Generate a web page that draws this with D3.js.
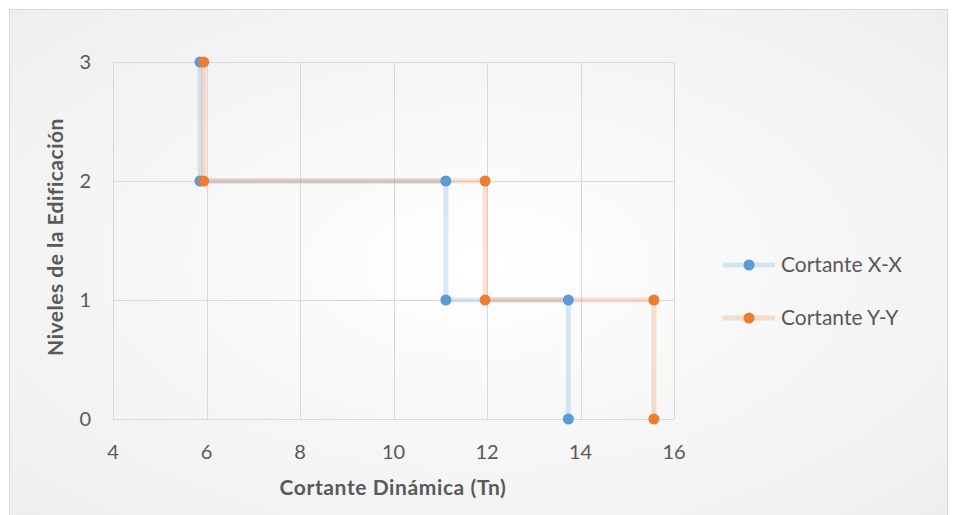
<!DOCTYPE html>
<html>
<head>
<meta charset="utf-8">
<script src="https://cdn.jsdelivr.net/npm/d3@7"></script>
<style>
  body { margin: 0; background: #fff; }
  text { font-family: Lato, "Open Sans", sans-serif; fill: #595959; }
</style>
</head>
<body>
<script>
// data
var niveles = [3, 2, 2, 1, 1, 0];
var cortanteX = [5.86, 5.86, 11.12, 11.12, 13.74, 13.74];
var cortanteY = [5.94, 5.94, 11.96, 11.96, 15.57, 15.57];
var seriesNames = ['Cortante X-X', 'Cortante Y-Y'];
var seriesColors = ['#5b9bd5', '#ed7d31'];
var xTicks = [4, 6, 8, 10, 12, 14, 16];
var yTicks = [0, 1, 2, 3];

var width = 956;
var height = 515;

var svg = d3.select('body').append('svg')
  .attr('width', width)
  .attr('height', height)

var defs = svg.append('defs')
var grad = defs.append('radialGradient')
  .attr('id', 'bg')
  .attr('cx', '50%').attr('cy', '50%').attr('r', '75%')
grad.append('stop').attr('offset', '0%').attr('stop-color', '#ffffff')
grad.append('stop').attr('offset', '100%').attr('stop-color', '#ededed')

// chart frame
svg.append('rect')
  .attr('x', 9.5)
  .attr('y', 9.5)
  .attr('width', 938)
  .attr('height', 510)
  .attr('fill', 'url(#bg)')
  .attr('stroke', '#d9d9d9')

var x = d3.scaleLinear().domain([4, 16]).range([113, 674]);
var y = d3.scaleLinear().domain([0, 3]).range([419, 62]);

// gridlines
svg.append('g').selectAll('line')
  .data(xTicks)
  .enter().append('line')
  .attr('x1', function(d) { return Math.round(x(d)) + 0.5 })
  .attr('x2', function(d) { return Math.round(x(d)) + 0.5 })
  .attr('y1', y(3))
  .attr('y2', y(0))
  .attr('stroke', '#d9d9d9')

svg.append('g').selectAll('line')
  .data(yTicks)
  .enter().append('line')
  .attr('x1', x(4))
  .attr('x2', x(16))
  .attr('y1', function(d) { return Math.round(y(d)) + 0.5 })
  .attr('y2', function(d) { return Math.round(y(d)) + 0.5 })
  .attr('stroke', '#d9d9d9')

// tick labels
svg.append('g').selectAll('text')
  .data(xTicks)
  .enter().append('text')
  .attr('x', function(d) { return x(d) })
  .attr('y', 459)
  .attr('text-anchor', 'middle')
  .attr('font-size', 20)
  .text(function(d) { return d })

svg.append('g').selectAll('text')
  .data(yTicks)
  .enter().append('text')
  .attr('x', 91)
  .attr('y', function(d) { return y(d) + 7 })
  .attr('text-anchor', 'end')
  .attr('font-size', 20)
  .text(function(d) { return d })

// axis titles
svg.append('text')
  .attr('x', 393)
  .attr('y', 495)
  .attr('text-anchor', 'middle')
  .attr('font-size', 21)
  .attr('font-weight', 'bold')
  .attr('letter-spacing', 0.6)
  .text('Cortante Dinámica (Tn)')

svg.append('text')
  .attr('transform', 'translate(63,237) rotate(-90)')
  .attr('text-anchor', 'middle')
  .attr('font-size', 21)
  .attr('font-weight', 'bold')
  .attr('letter-spacing', 0.5)
  .text('Niveles de la Edificación')

// series
var series = [cortanteX, cortanteY];
var line = d3.line()
  .x(function(d) { return x(d[0]) })
  .y(function(d) { return y(d[1]) })

series.forEach(function(vals, i) {
  var pts = vals.map(function(v, j) { return [v, niveles[j]] });
  svg.append('path')
    .datum(pts)
    .attr('d', line)
    .attr('fill', 'none')
    .attr('stroke', seriesColors[i])
    .attr('stroke-opacity', 0.22)
    .attr('stroke-width', 5)
})

series.forEach(function(vals, i) {
  var pts = vals.map(function(v, j) { return [v, niveles[j]] });
  svg.append('g').selectAll('circle')
    .data(pts)
    .enter().append('circle')
    .attr('cx', function(d) { return x(d[0]) })
    .attr('cy', function(d) { return y(d[1]) })
    .attr('r', 5.5)
    .attr('fill', seriesColors[i])
})

// legend
var legend = svg.append('g').selectAll('g')
  .data(seriesNames)
  .enter().append('g')
  .attr('transform', function(d, i) { return 'translate(0,' + (265 + i * 53) + ')' })

legend.append('line')
  .attr('x1', 723).attr('x2', 775)
  .attr('stroke', function(d, i) { return seriesColors[i] })
  .attr('stroke-opacity', 0.22)
  .attr('stroke-width', 5)

legend.append('circle')
  .attr('cx', 749)
  .attr('r', 5.5)
  .attr('fill', function(d, i) { return seriesColors[i] })

legend.append('text')
  .attr('x', 781)
  .attr('y', 7)
  .attr('font-size', 21)
  .text(function(d) { return d })
</script>
</body>
</html>
